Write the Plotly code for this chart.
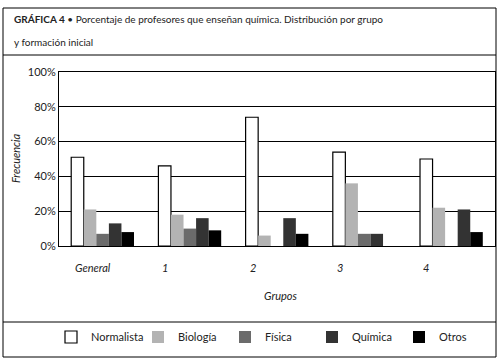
import plotly.graph_objects as go

groups = ["General", "1", "2", "3", "4"]
series_names = ["Normalista", "Biología", "Física", "Química", "Otros"]
normalista = [51, 46, 74, 54, 50]
biologia = [21, 18, 6, 36, 22]
fisica = [7, 10, 0, 7, 0]
quimica = [13, 16, 16, 7, 21]
otros = [8, 9, 7, 0, 8]
y_ticks = [0, 20, 40, 60, 80, 100]
y_tick_labels = ["0%", "20%", "40%", "60%", "80%", "100%"]

series_values = [normalista, biologia, fisica, quimica, otros]
fills = ["#ffffff", "#b3b3b3", "#6b6b6b", "#333333", "#000000"]
lines = ["#000000", "#b3b3b3", "#6b6b6b", "#333333", "#000000"]
line_w = [1.2, 0, 0, 0, 0]

FONT = "Lato"
fig = go.Figure()
for name, vals, fc, lc, lw in zip(series_names, series_values, fills, lines, line_w):
    fig.add_trace(go.Bar(x=groups, y=vals, name=name,
                         marker=dict(color=fc, line=dict(color=lc, width=lw))))

W, H = 500, 364
L, R, T, B = 59, 495, 72, 246
pw, ph = R - L, B - T

def px(x):
    return (x - L) / pw

def py(y):
    return (B - y) / ph

fig.update_layout(
    width=W, height=H,
    margin=dict(l=L, r=W - R, t=T, b=H - B, autoexpand=False),
    paper_bgcolor="white", plot_bgcolor="white",
    barmode="group", bargap=0.28, bargroupgap=0,
    font=dict(family=FONT, size=11, color="#222"),
    showlegend=True,
    legend=dict(orientation="h", x=px(51), y=py(337), xanchor="left", yanchor="middle",
                entrywidth=42, entrywidthmode="pixels", traceorder="normal",
                font=dict(family=FONT, size=11, color="#222"), bgcolor="rgba(0,0,0,0)"),
    xaxis=dict(showticklabels=False, showline=True, linecolor="black", linewidth=1,
               mirror=True, ticks="", showgrid=False),
    yaxis=dict(range=[0, 100], tickmode="array", tickvals=y_ticks, ticktext=y_tick_labels,
               showgrid=True, gridcolor="black", gridwidth=1, showline=True, linecolor="black",
               linewidth=1, mirror=True, ticks="", zeroline=False,
               tickfont=dict(family=FONT, size=11, color="#222")),
)

# category labels (left-aligned near first bar of each group)
label_left = [73, 160, 248, 335, 421]
slot = pw / len(groups)
for i, g in enumerate(groups):
    center = L + slot * (i + 0.5)
    fig.add_annotation(x=g, xref="x", y=py(267), yref="paper", text=f"<i>{g}</i>",
                       showarrow=False, xanchor="left", yanchor="middle",
                       xshift=label_left[i] - center,
                       font=dict(family=FONT, size=11, color="#222"))

fig.add_annotation(x=px(280), y=py(295), xref="paper", yref="paper", text="<i>Grupos</i>",
                   showarrow=False, xanchor="center", yanchor="middle",
                   font=dict(family=FONT, size=11, color="#222"))
fig.add_annotation(x=px(15), y=py(158), xref="paper", yref="paper", text="<i>Frecuencia</i>",
                   showarrow=False, textangle=-90, xanchor="center", yanchor="middle",
                   font=dict(family=FONT, size=11, color="#222"))

fig.add_annotation(x=px(12), y=py(19), xref="paper", yref="paper", xanchor="left",
                   yanchor="middle", showarrow=False,
                   text="<b>GRÁFICA 4</b> • Porcentaje de profesores que enseñan química. Distribución por grupo",
                   font=dict(family=FONT, size=10, color="#222"))
fig.add_annotation(x=px(12), y=py(42), xref="paper", yref="paper", xanchor="left",
                   yanchor="middle", showarrow=False, text="y formación inicial",
                   font=dict(family=FONT, size=10, color="#222"))

# frame
fig.add_shape(type="rect", xref="paper", yref="paper", x0=px(3), x1=px(496), y0=py(357), y1=py(8),
              line=dict(color="black", width=1))
fig.add_shape(type="line", xref="paper", yref="paper", x0=px(3), x1=px(496), y0=py(55), y1=py(55),
              line=dict(color="black", width=1))
fig.add_shape(type="line", xref="paper", yref="paper", x0=px(3), x1=px(496), y0=py(322), y1=py(322),
              line=dict(color="black", width=1))

fig.write_html("out.html", config={"displayModeBar": False},
               post_script="document.body.style.margin='0px';")
